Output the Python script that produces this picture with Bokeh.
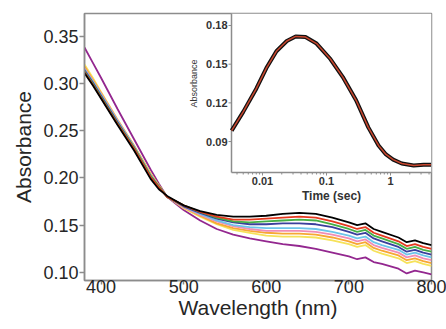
import math
from bokeh.plotting import figure
from bokeh.models import Range1d, FixedTicker, CustomJSTickFormatter, LogScale
from bokeh.core.properties import value
from bokeh.embed import file_html
from bokeh.resources import INLINE

# ---- main spectra data ----
wavelength = [380, 390, 400, 420, 440, 460, 470, 480, 500, 520, 540, 560, 580, 600,
              620, 640, 660, 680, 700, 710, 720, 730, 740, 760, 770, 780, 790, 800]
abs_black = [0.311, 0.298, 0.284, 0.256, 0.229, 0.199, 0.188, 0.181, 0.171, 0.165, 0.161, 0.159, 0.159, 0.160,
             0.162, 0.163, 0.162, 0.158, 0.153, 0.150, 0.152, 0.146, 0.143, 0.137, 0.132, 0.134, 0.131, 0.129]
abs_red = [0.312, 0.299, 0.285, 0.257, 0.231, 0.201, 0.190, 0.180, 0.171, 0.164, 0.159, 0.156, 0.156, 0.157,
           0.158, 0.159, 0.158, 0.154, 0.149, 0.146, 0.148, 0.142, 0.139, 0.133, 0.128, 0.130, 0.127, 0.125]
abs_green = [0.313, 0.300, 0.286, 0.258, 0.232, 0.202, 0.191, 0.180, 0.171, 0.164, 0.158, 0.154, 0.153, 0.154,
             0.155, 0.156, 0.155, 0.151, 0.146, 0.143, 0.145, 0.139, 0.136, 0.130, 0.125, 0.127, 0.124, 0.122]
abs_blue = [0.314, 0.301, 0.287, 0.259, 0.232, 0.202, 0.191, 0.180, 0.170, 0.163, 0.157, 0.153, 0.151, 0.151,
            0.152, 0.152, 0.151, 0.148, 0.143, 0.140, 0.142, 0.136, 0.133, 0.127, 0.122, 0.124, 0.121, 0.119]
abs_lightblue = [0.315, 0.302, 0.288, 0.260, 0.233, 0.203, 0.191, 0.180, 0.170, 0.162, 0.155, 0.150, 0.148, 0.147,
                 0.147, 0.147, 0.146, 0.143, 0.139, 0.136, 0.138, 0.132, 0.129, 0.124, 0.119, 0.121, 0.118, 0.116]
abs_pink = [0.316, 0.303, 0.289, 0.261, 0.233, 0.203, 0.191, 0.180, 0.169, 0.161, 0.154, 0.149, 0.146, 0.144,
            0.144, 0.144, 0.143, 0.140, 0.136, 0.133, 0.135, 0.129, 0.126, 0.121, 0.116, 0.118, 0.115, 0.113]
abs_orange = [0.318, 0.304, 0.290, 0.261, 0.234, 0.204, 0.192, 0.180, 0.169, 0.160, 0.152, 0.147, 0.144, 0.142,
              0.141, 0.141, 0.140, 0.137, 0.133, 0.130, 0.132, 0.126, 0.123, 0.118, 0.113, 0.115, 0.112, 0.110]
abs_yellow = [0.320, 0.306, 0.291, 0.262, 0.234, 0.205, 0.192, 0.180, 0.168, 0.159, 0.151, 0.145, 0.142, 0.139,
              0.138, 0.138, 0.137, 0.134, 0.130, 0.127, 0.129, 0.123, 0.120, 0.115, 0.110, 0.112, 0.109, 0.107]
abs_purple = [0.338, 0.322, 0.306, 0.273, 0.241, 0.209, 0.194, 0.180, 0.166, 0.155, 0.146, 0.140, 0.136, 0.133,
              0.130, 0.128, 0.125, 0.121, 0.117, 0.114, 0.116, 0.111, 0.109, 0.104, 0.099, 0.102, 0.100, 0.098]

series = [abs_purple, abs_yellow, abs_orange, abs_pink, abs_lightblue, abs_blue, abs_green, abs_red, abs_black]
colors = ["#93278f", "#f6e25a", "#f7a734", "#f08db5", "#6cc5ea", "#3a3f9c", "#45b045", "#e5391f", "#000000"]

x_ticks = [400, 500, 600, 700, 800]
y_ticks = [0.10, 0.15, 0.20, 0.25, 0.30, 0.35]

# ---- inset kinetic trace data ----
time_s = [0.0033, 0.005, 0.008, 0.0115, 0.0165, 0.024, 0.033, 0.047, 0.07, 0.115,
          0.18, 0.29, 0.45, 0.65, 0.85, 1.1, 1.5, 2.3, 3.3, 4.3]
trace = [0.0985, 0.113, 0.131, 0.147, 0.160, 0.168, 0.1715, 0.171, 0.166, 0.154,
         0.140, 0.122, 0.101, 0.087, 0.080, 0.076, 0.073, 0.0715, 0.072, 0.072]
inset_x_ticks = [0.01, 0.1, 1]
inset_x_labels = ["0.01", "0.1", "1"]
inset_x_minor = [0.004, 0.005, 0.006, 0.007, 0.008, 0.009, 0.02, 0.03, 0.04, 0.05, 0.06, 0.07, 0.08, 0.09,
                 0.2, 0.3, 0.4, 0.5, 0.6, 0.7, 0.8, 0.9, 2, 3, 4]
inset_y_ticks = [0.09, 0.12, 0.15, 0.18]
inset_y_labels = ["0.09", "0.12", "0.15", "0.18"]

FONT = "Liberation Sans"
GRAY = "#8c8c8c"
TXT = "#262626"

# ---- geometry (pixels) ----
W, H = 446, 329
BL, BR, BT, BB = 84, 15, 13, 49
FW, FH = W - BL - BR, H - BT - BB          # frame size
INSET_LEFT_PX = 147                        # inset left edge, px from frame left
INSET_BOTTOM_PX = 159                      # inset bottom edge, px from frame top

# inset data ranges
t_lo, t_hi = 0.00328, 4.37
a_lo, a_hi = 0.066, 0.1893
dec_per_px = (math.log10(t_hi) - math.log10(t_lo)) / (FW - INSET_LEFT_PX)
t_start = 10 ** (math.log10(t_lo) - INSET_LEFT_PX * dec_per_px)
a_per_px = (a_hi - a_lo) / INSET_BOTTOM_PX
a_start = a_hi - FH * a_per_px

p = figure(width=W, height=H, x_range=Range1d(380, 800), y_range=Range1d(0.0915, 0.374),
           output_backend="svg", toolbar_location=None,
           min_border_left=BL, min_border_right=BR, min_border_top=BT, min_border_bottom=BB)
p.extra_x_scales = {"t": LogScale()}
p.extra_x_ranges = {"t": Range1d(t_start, t_hi)}
p.extra_y_ranges = {"a": Range1d(a_start, a_hi)}
p.grid.visible = False
p.outline_line_color = GRAY
p.outline_line_width = 1.5
p.background_fill_color = "white"

for ys, c in zip(series, colors):
    p.line(wavelength, ys, line_color=c, line_width=1.8)

p.xaxis.ticker = FixedTicker(ticks=x_ticks)
p.yaxis.ticker = FixedTicker(ticks=y_ticks)
p.yaxis.formatter = CustomJSTickFormatter(code="return tick.toFixed(2);")
for ax in (p.xaxis[0], p.yaxis[0]):
    ax.axis_line_color = GRAY
    ax.axis_line_width = 1.5
    ax.major_tick_line_color = GRAY
    ax.major_tick_line_width = 1.5
    ax.major_tick_in = 0
    ax.minor_tick_line_color = None
    ax.major_label_text_font = FONT
    ax.major_label_text_font_size = "18px"
    ax.major_label_text_color = TXT
    ax.axis_label_text_font = FONT
    ax.axis_label_text_font_size = "21px"
    ax.axis_label_text_font_style = "normal"
    ax.axis_label_text_color = TXT

p.xaxis.axis_label = "Wavelength (nm)"
p.yaxis.axis_label = "Absorbance"
p.xaxis.major_tick_out = 4
p.xaxis.major_label_standoff = -5
p.xaxis.axis_label_standoff = 0
p.yaxis.major_tick_out = 5
p.yaxis.major_label_standoff = 1
p.yaxis.axis_label_standoff = 5

# ---- inset drawn inside the frame on its own (log) ranges ----
R = dict(x_range_name="t", y_range_name="a")
p.quad(left=t_lo, right=t_hi, bottom=a_lo, top=a_hi, fill_color="white", line_color=None, **R)
p.segment(x0=[t_lo, t_lo], y0=[a_lo, a_lo], x1=[t_lo, t_hi], y1=[a_hi, a_lo],
          line_color=GRAY, line_width=1.5, **R)

tick_fac = 10 ** (-3 * dec_per_px)
p.segment(x0=[t_lo * tick_fac] * len(inset_y_ticks), y0=inset_y_ticks,
          x1=[t_lo] * len(inset_y_ticks), y1=inset_y_ticks, line_color=GRAY, line_width=1, **R)
p.segment(x0=inset_x_ticks, y0=[a_lo] * len(inset_x_ticks),
          x1=inset_x_ticks, y1=[a_lo - 3 * a_per_px] * len(inset_x_ticks),
          line_color=GRAY, line_width=1, **R)
p.segment(x0=inset_x_minor, y0=[a_lo] * len(inset_x_minor),
          x1=inset_x_minor, y1=[a_lo - 2 * a_per_px] * len(inset_x_minor),
          line_color=GRAY, line_width=1, **R)

p.text(x=[t_lo] * len(inset_y_ticks), y=inset_y_ticks, text=inset_y_labels,
       text_font=value(FONT), text_font_size="11px", text_font_style="bold",
       text_color="#333333", text_align="right", text_baseline="middle", x_offset=-4, **R)
p.text(x=inset_x_ticks, y=[a_lo] * len(inset_x_ticks), text=inset_x_labels,
       text_font=value(FONT), text_font_size="11px", text_font_style="bold",
       text_color="#333333", text_align="center", text_baseline="top", y_offset=4, **R)
p.text(x=[t_lo], y=[(inset_y_ticks[0] + inset_y_ticks[-1]) / 2], text=["Absorbance"],
       text_font=value(FONT), text_font_size="9px", text_color="#333333",
       text_align="center", text_baseline="middle", angle=math.pi / 2, x_offset=-38, **R)
p.text(x=[math.sqrt(t_lo * t_hi)], y=[a_lo], text=["Time (sec)"],
       text_font=value(FONT), text_font_size="12px", text_font_style="bold",
       text_color="#333333", text_align="center", text_baseline="top", y_offset=16, **R)

p.line(time_s, trace, line_color="#111111", line_width=4, **R)
p.line(time_s, trace, line_color="#c8462e", line_width=1.5, **R)

open("out.html", "w").write(file_html(p, INLINE))
